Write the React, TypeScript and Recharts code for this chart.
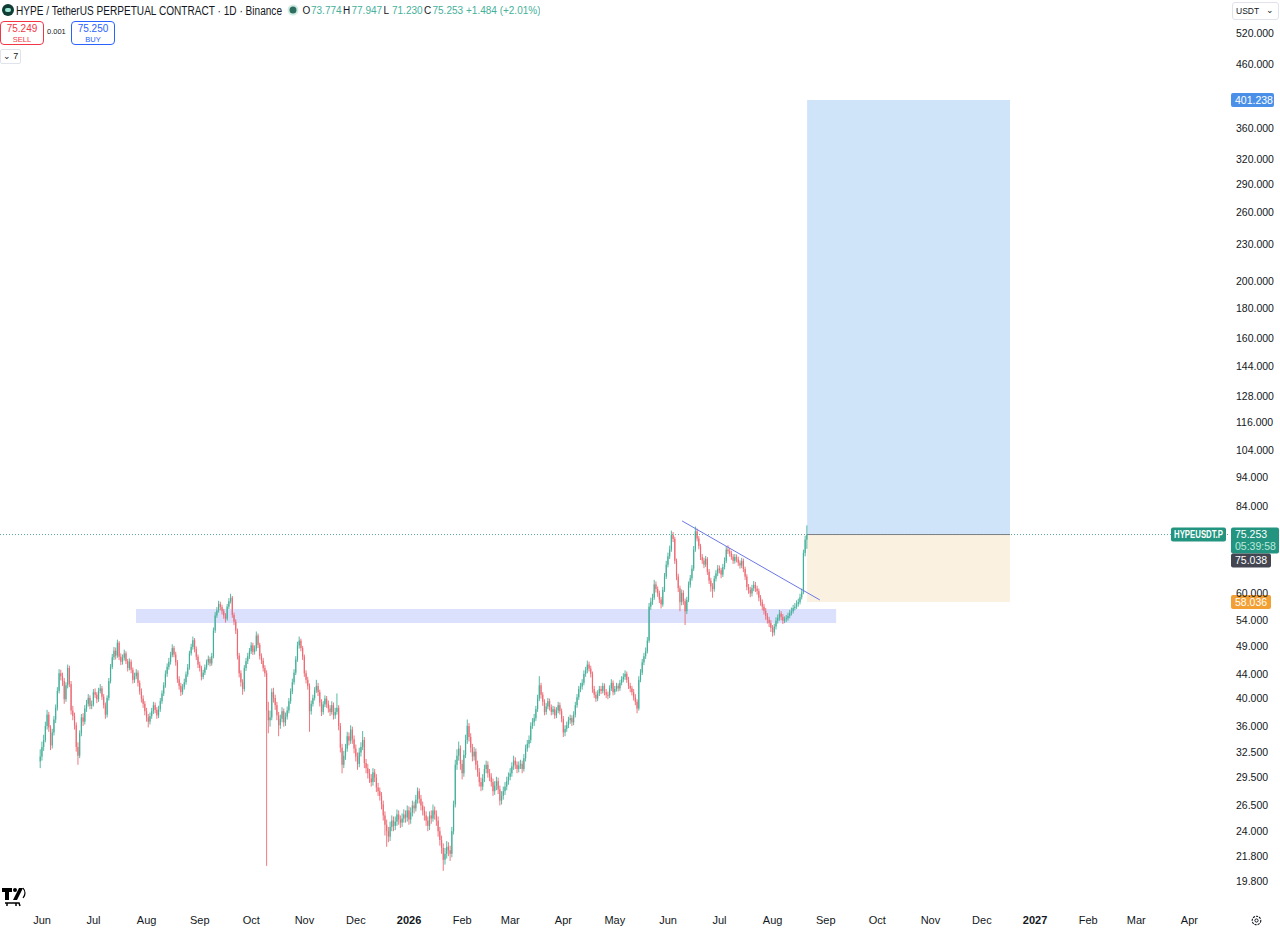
import { Bar, ComposedChart, ReferenceArea, ReferenceLine, XAxis, YAxis } from "recharts";

const FONT = '"Liberation Sans", Arial, sans-serif';
const UP = "#45b09a";
const DOWN = "#ec6a73";
const TEXT = "#131722";

// day 0 = 1 Jun 2025, first candle is 31 May 2025. open = previous close
const firstDay = -1;
const firstOpen = 31.4;

const closes = [
  // Jun 2025
  32.0, 33.2, 34.1, 36.0, 37.6, 35.8, 33.4, 35.1, 36.9, 38.6, 41.2, 44.1, 43.6, 42.8, 39.9, 42.1, 45.0, 42.3, 38.2, 37.4, 36.1, 33.2, 32.1, 35.0, 37.2, 36.6, 38.5, 39.2, 40.1, 38.9, 39.1,
  // Jul
  41.0, 40.6, 39.9, 41.2, 41.6, 40.3, 39.0, 37.6, 40.1, 42.8, 45.2, 46.9, 48.1, 47.2, 49.6, 47.0, 46.1, 46.8, 47.6, 46.2, 45.0, 46.1, 44.7, 43.0, 43.6, 44.2, 42.5, 41.1, 40.0, 39.2, 38.1,
  // Aug
  37.2, 36.6, 37.4, 38.1, 39.0, 38.3, 37.5, 38.4, 39.6, 40.8, 42.1, 44.0, 45.2, 46.1, 47.3, 48.6, 47.4, 46.0, 43.1, 42.0, 41.0, 41.8, 42.6, 43.9, 45.1, 47.6, 48.8, 50.1, 48.4, 47.0, 45.6,
  // Sep
  45.0, 43.5, 44.2, 45.1, 46.0, 46.6, 45.8, 47.1, 52.0, 55.1, 56.2, 57.6, 56.9, 56.0, 55.1, 54.4, 57.0, 58.2, 59.0, 55.2, 53.8, 52.0, 47.2, 44.1, 42.6, 41.5, 45.0, 46.2, 47.1, 48.0,
  // Oct
  49.1, 47.9, 48.5, 51.0, 49.2, 47.1, 46.3, 45.0, 44.1, 38.2, 36.8, 37.2, 41.0, 40.1, 39.0, 37.5, 36.1, 37.0, 38.1, 36.5, 37.3, 38.2, 39.6, 41.1, 42.6, 44.2, 46.5, 49.1, 50.0, 48.6, 47.0,
  // Nov
  44.1, 43.0, 42.0, 38.1, 39.2, 40.1, 41.3, 42.0, 41.0, 39.4, 38.0, 39.1, 40.0, 39.2, 38.5, 38.0, 39.0, 37.5, 38.0, 38.6, 36.0, 33.1, 31.0, 32.1, 33.0, 34.6, 34.0, 35.5, 34.2, 33.0,
  // Dec
  32.0, 31.1, 32.5, 33.2, 34.1, 31.2, 30.6, 30.0, 29.4, 29.0, 30.1, 29.5, 28.4, 28.0, 27.5, 26.6, 25.5, 24.6, 24.0, 23.5, 24.4, 25.0, 24.5, 24.9, 25.6, 25.1, 24.8, 25.2, 25.6, 25.3, 26.0,
  // Jan 2026
  25.1, 25.8, 26.5, 26.2, 27.1, 28.0, 27.2, 26.5, 26.0, 25.5, 25.0, 24.5, 25.5, 25.2, 26.0, 25.6, 25.0, 24.0, 23.2, 22.5, 21.5, 22.0, 22.6, 22.3, 22.0, 24.0, 26.6, 31.0, 32.1, 33.0, 31.1,
  // Feb
  30.0, 32.2, 34.1, 36.0, 34.5, 33.1, 32.0, 32.6, 31.0, 30.1, 29.0, 28.5, 29.4, 30.5, 31.0, 30.0, 29.6, 29.0, 28.0, 28.6, 29.1, 28.2, 27.0, 27.5, 28.0, 28.5, 29.1, 29.6,
  // Mar
  30.0, 30.8, 31.5, 31.0, 30.5, 30.9, 31.1, 30.5, 31.8, 33.0, 33.6, 34.1, 36.0, 36.5, 37.1, 38.4, 40.0, 42.1, 40.6, 39.5, 38.0, 38.8, 39.6, 38.7, 38.0, 38.4, 37.5, 38.2, 39.0, 38.1, 37.0,
  // Apr
  35.1, 35.6, 36.1, 36.8, 37.1, 36.5, 37.6, 39.0, 40.2, 41.5, 41.9, 42.5, 44.0, 44.6, 45.6, 44.9, 44.0, 41.5, 40.6, 40.0, 40.8, 41.5, 41.2, 42.0, 41.0, 40.6, 40.5, 41.6, 42.5, 41.0,
  // May
  41.5, 42.0, 41.6, 42.5, 43.1, 43.5, 44.0, 43.0, 42.0, 41.6, 41.0, 40.2, 39.5, 38.5, 43.0, 44.2, 46.0, 47.1, 48.0, 50.0, 57.0, 58.1, 59.0, 62.1, 61.0, 60.0, 58.6, 57.5, 60.8, 64.0, 67.0,
  // Jun
  69.2, 71.0, 75.1, 74.0, 68.0, 64.0, 61.2, 58.0, 60.1, 58.2, 56.0, 58.5, 62.0, 63.6, 66.0, 71.0, 76.2, 74.1, 72.0, 69.0, 68.1, 67.0, 68.5, 65.2, 63.0, 61.6, 61.0, 63.5, 64.8, 66.0,
  // Jul
  65.6, 64.5, 66.4, 68.0, 71.0, 70.6, 70.0, 69.1, 68.0, 69.0, 68.4, 67.5, 66.8, 68.0, 65.9, 64.0, 61.5, 60.8, 60.0, 61.2, 62.0, 61.1, 60.5, 59.0, 58.0, 57.0, 56.1, 55.0, 54.2, 53.5, 52.5,
  // Aug
  51.6, 52.8, 54.0, 54.6, 55.5, 54.8, 54.0, 54.3, 54.5, 55.0, 55.6, 56.0, 56.7, 57.0, 57.6, 58.0, 59.1, 60.2, 70.1, 73.774, 75.253,
];

const highs = [
  32.9, 33.9, 34.8, 36.6, 38.3, 38.0, 36.1, 35.6, 37.4, 39.1, 41.8, 44.8, 44.7, 44.2, 43.3, 42.6, 45.6, 45.4, 42.8, 38.9, 37.9, 36.5, 33.8, 35.4, 37.7, 37.8, 39.0, 39.8, 40.7, 40.5, 39.7,
  41.5, 41.6, 41.0, 41.7, 42.3, 42.0, 40.7, 39.4, 40.5, 43.3, 45.7, 47.5, 48.8, 48.7, 50.2, 49.9, 47.6, 47.4, 48.3, 48.0, 46.6, 46.7, 46.5, 45.1, 44.2, 44.8, 44.6, 42.9, 41.6, 40.5, 39.6,
  38.6, 37.7, 37.9, 38.6, 39.5, 39.4, 38.7, 38.9, 40.1, 41.3, 42.6, 44.6, 45.8, 46.8, 47.9, 49.3, 49.0, 47.9, 46.4, 43.6, 42.5, 42.3, 43.2, 44.4, 45.7, 48.1, 49.4, 50.8, 50.5, 48.9, 47.4,
  46.1, 45.4, 44.7, 45.6, 46.5, 47.2, 47.0, 47.7, 52.6, 55.8, 56.9, 58.3, 58.1, 57.4, 56.5, 55.6, 57.6, 58.9, 59.9, 59.4, 55.7, 54.3, 52.4, 47.7, 44.6, 43.1, 45.5, 46.8, 47.7, 48.6,
  49.7, 49.6, 49.1, 51.8, 51.4, 49.6, 47.6, 46.8, 45.5, 44.6, 39.5, 38.2, 41.6, 41.7, 40.6, 39.5, 38.0, 37.6, 38.7, 38.5, 37.9, 38.8, 40.1, 41.6, 43.2, 44.8, 47.1, 49.8, 50.8, 50.4, 49.0,
  47.4, 44.6, 43.5, 42.4, 39.7, 40.6, 41.8, 43.0, 42.5, 41.4, 39.9, 39.6, 40.5, 40.4, 39.7, 39.0, 39.6, 39.4, 38.6, 40.8, 39.0, 36.4, 33.6, 32.7, 33.6, 35.2, 35.1, 36.1, 35.9, 34.7,
  33.5, 32.5, 33.1, 33.8, 35.3, 34.5, 31.7, 31.1, 30.5, 29.9, 30.6, 30.5, 29.9, 28.9, 28.4, 27.9, 27.0, 25.9, 25.1, 24.4, 24.9, 25.5, 25.4, 25.4, 26.1, 26.0, 25.5, 25.7, 26.1, 26.0, 26.5,
  26.4, 26.3, 27.0, 26.9, 27.6, 28.4, 28.3, 27.6, 26.9, 26.4, 25.9, 25.4, 25.9, 26.0, 26.6, 26.4, 26.0, 25.4, 24.4, 23.6, 22.9, 22.5, 23.1, 23.0, 22.7, 24.4, 27.0, 31.6, 32.9, 33.9, 33.4,
  31.6, 32.8, 34.8, 36.9, 36.4, 35.0, 33.6, 33.2, 33.0, 31.5, 30.6, 29.5, 29.9, 31.0, 31.5, 31.4, 30.5, 30.0, 29.4, 29.1, 29.6, 29.5, 28.6, 28.0, 28.5, 29.0, 29.6, 30.1,
  30.6, 31.3, 32.1, 31.9, 31.4, 31.4, 31.6, 31.5, 32.3, 33.5, 34.1, 34.7, 36.5, 37.1, 37.7, 38.9, 40.6, 43.6, 42.5, 41.0, 39.9, 39.3, 40.1, 40.0, 39.1, 38.9, 38.8, 38.7, 39.5, 39.4, 38.5,
  37.4, 36.1, 36.6, 37.3, 37.6, 37.5, 38.1, 39.5, 40.7, 42.0, 42.5, 43.1, 44.6, 45.2, 46.3, 46.1, 45.4, 44.4, 42.0, 41.1, 41.3, 42.0, 42.0, 42.5, 42.4, 41.5, 41.1, 42.1, 43.1, 42.9,
  42.0, 42.5, 42.4, 43.0, 43.6, 44.1, 44.6, 44.4, 43.5, 42.5, 42.0, 41.5, 40.7, 39.9, 43.6, 44.8, 46.6, 47.7, 48.7, 50.7, 57.8, 59.0, 59.9, 63.2, 62.8, 61.6, 60.6, 59.2, 61.5, 64.9, 68.0,
  70.2, 72.1, 76.4, 76.0, 74.6, 68.6, 64.7, 61.8, 60.9, 60.7, 58.8, 59.2, 62.8, 64.4, 66.9, 72.0, 77.6, 77.0, 74.8, 72.6, 69.8, 68.8, 69.3, 69.0, 65.9, 63.7, 62.4, 64.2, 65.6, 66.9,
  66.8, 66.2, 67.2, 68.9, 72.0, 72.2, 71.4, 70.7, 69.8, 69.8, 69.7, 69.1, 68.1, 68.8, 68.6, 66.5, 64.6, 62.2, 61.5, 62.0, 62.9, 62.7, 61.8, 61.1, 59.6, 58.6, 57.6, 56.7, 55.6, 54.8, 54.1,
  53.1, 53.4, 54.7, 55.3, 56.3, 56.0, 55.4, 54.9, 55.2, 55.7, 56.3, 56.8, 57.4, 57.8, 58.4, 58.8, 59.9, 61.1, 71.0, 74.9, 77.947,
];

const lows = [
  30.6, 31.5, 32.7, 33.8, 35.5, 35.2, 32.8, 33.0, 34.7, 36.4, 38.2, 40.8, 42.9, 42.0, 39.2, 39.5, 41.6, 41.8, 37.6, 36.8, 35.5, 32.6, 31.0, 31.8, 34.6, 36.0, 36.2, 38.0, 38.8, 38.4, 38.4,
  38.8, 40.1, 39.3, 39.5, 40.8, 39.8, 38.5, 37.0, 37.2, 39.7, 42.4, 44.8, 46.4, 46.5, 46.8, 46.4, 45.5, 45.6, 46.3, 45.7, 44.4, 44.6, 44.1, 42.4, 42.5, 43.1, 41.9, 40.6, 39.4, 38.6, 37.5,
  36.6, 35.8, 36.2, 37.0, 37.7, 37.8, 37.0, 37.1, 38.0, 39.2, 40.4, 41.7, 43.5, 44.7, 45.6, 46.9, 46.9, 45.4, 42.5, 41.4, 40.4, 40.6, 41.4, 42.2, 43.5, 44.7, 47.2, 48.3, 47.8, 46.4, 45.0,
  44.4, 42.9, 43.1, 43.8, 44.7, 45.5, 45.3, 45.4, 46.7, 51.5, 54.6, 55.7, 56.2, 55.3, 54.4, 53.6, 54.0, 56.5, 57.7, 54.6, 53.1, 51.3, 46.5, 43.4, 41.9, 40.6, 41.1, 44.5, 45.7, 46.6,
  47.5, 47.3, 47.4, 48.0, 48.6, 46.5, 45.7, 44.4, 43.5, 21.0, 35.0, 35.9, 36.8, 39.4, 38.3, 36.8, 34.6, 35.6, 36.5, 35.9, 36.0, 36.9, 37.8, 39.2, 40.7, 42.2, 43.8, 46.1, 48.5, 48.0, 46.4,
  43.5, 42.4, 41.4, 35.2, 37.6, 38.8, 39.7, 40.9, 40.4, 38.8, 37.4, 37.6, 38.7, 38.6, 37.9, 37.4, 37.6, 36.9, 37.0, 37.6, 35.4, 32.5, 30.0, 30.6, 31.6, 32.6, 33.4, 33.6, 33.6, 32.4,
  31.4, 30.4, 30.7, 32.0, 32.8, 30.6, 30.0, 29.4, 28.9, 28.5, 28.6, 29.0, 27.9, 27.5, 27.0, 26.1, 25.0, 23.6, 22.6, 23.0, 23.1, 24.0, 24.0, 24.1, 24.5, 24.6, 24.3, 24.4, 24.8, 24.8, 24.9,
  24.6, 24.7, 25.4, 25.7, 25.9, 26.7, 26.7, 26.0, 25.5, 25.0, 24.5, 24.0, 24.1, 24.7, 24.9, 25.1, 24.5, 23.5, 22.7, 22.0, 20.6, 21.1, 21.6, 21.8, 21.4, 21.7, 23.7, 26.3, 30.4, 31.5, 30.4,
  29.3, 29.6, 31.8, 33.6, 33.9, 32.5, 31.4, 31.5, 30.4, 29.6, 28.5, 28.0, 28.1, 29.0, 30.0, 29.5, 29.1, 28.5, 27.5, 27.6, 28.1, 27.7, 26.5, 26.6, 27.1, 27.6, 28.1, 28.7,
  29.2, 29.6, 30.4, 30.5, 30.0, 30.1, 30.5, 30.0, 30.2, 31.4, 32.6, 33.1, 33.7, 35.6, 36.0, 36.7, 38.0, 39.6, 40.0, 38.9, 37.5, 37.6, 38.4, 38.2, 37.5, 37.6, 37.0, 37.1, 37.8, 37.6, 36.5,
  34.5, 34.6, 35.2, 35.7, 36.3, 36.0, 36.1, 37.2, 38.6, 39.8, 41.0, 41.4, 42.1, 43.5, 44.1, 44.4, 43.4, 40.9, 40.1, 39.5, 39.6, 40.4, 40.7, 40.8, 40.5, 40.1, 39.9, 40.1, 41.2, 40.5,
  40.6, 41.1, 41.1, 41.2, 42.1, 42.6, 43.0, 42.5, 41.5, 41.0, 40.5, 39.7, 39.0, 37.8, 38.2, 42.6, 43.8, 45.5, 46.6, 47.6, 49.6, 56.3, 57.4, 58.5, 60.2, 59.2, 57.8, 56.6, 57.0, 60.3, 63.4,
  66.3, 68.5, 70.4, 73.1, 67.2, 63.1, 60.3, 56.0, 57.3, 57.4, 53.1, 55.4, 58.0, 61.3, 63.0, 65.4, 70.4, 73.3, 71.1, 68.2, 67.2, 66.1, 66.4, 64.4, 62.2, 60.4, 59.0, 60.4, 62.8, 64.1,
  64.8, 63.6, 63.9, 65.8, 67.4, 69.8, 69.1, 68.3, 67.2, 67.3, 67.6, 66.7, 66.0, 66.1, 65.1, 63.2, 60.7, 59.9, 59.1, 59.3, 60.5, 60.3, 59.7, 58.2, 57.2, 56.2, 55.3, 54.2, 53.4, 52.7, 51.7,
  50.8, 51.0, 52.2, 53.4, 54.0, 54.1, 53.3, 53.5, 53.7, 54.0, 54.5, 55.1, 55.5, 56.2, 56.5, 57.0, 57.5, 58.6, 59.8, 69.2, 71.23,
];

const monthTickDays = [0, 30, 61, 92, 122, 153, 183, 214, 245, 273, 304, 334, 365, 395, 426, 457, 487, 518, 548, 579, 610, 638, 669];
const monthTickLabels = ["Jun", "Jul", "Aug", "Sep", "Oct", "Nov", "Dec", "2026", "Feb", "Mar", "Apr", "May", "Jun", "Jul", "Aug", "Sep", "Oct", "Nov", "Dec", "2027", "Feb", "Mar", "Apr"];
const priceTicks = [19.8, 21.8, 24, 26.5, 29.5, 32.5, 36, 40, 44, 49, 54, 60, 84, 94, 104, 116, 128, 144, 160, 180, 200, 230, 260, 290, 320, 360, 460, 520];

// legend line: [label, value]
const ohlcLabels = ["O", "H", "L", "C"];
const ohlcValues = ["73.774", "77.947", "71.230", "75.253"];
const changeText = "+1.484 (+2.01%)";

// drawings
const supportZone = { fromDay: 54.8, toDay: 463, low: 53.5, high: 56.5 };
const longPosition = { fromDay: 446.1, toDay: 564.4, entry: 75.253, target: 401.238, stop: 58.036 };
const trendLine = [
  { day: 373.2, price: 79.3 },
  { day: 453.5, price: 58.5 },
];
const lastPrice = 75.253;
const markPrice = 75.038;

const n = Math.min(closes.length, highs.length, lows.length);
const candles = closes.slice(0, n).map((close, i) => {
  const open = i === 0 ? firstOpen : closes[i - 1];
  return { d: firstDay + i, open, close, high: highs[i], low: lows[i], range: [lows[i], highs[i]] };
});

const Candle = (props: any) => {
  const { x, y, width, height, payload } = props;
  if (!payload || height == null) return null;
  const { open, close, high, low } = payload;
  const cx = x + width / 2;
  const top = Math.min(y, y + height);
  const h = Math.abs(height);
  const span = Math.log(high) - Math.log(low);
  const py = (v: number) => top + (span === 0 ? 0 : (h * (Math.log(high) - Math.log(v))) / span);
  const color = close >= open ? UP : DOWN;
  const bTop = py(Math.max(open, close));
  const bBot = py(Math.min(open, close));
  return (
    <g>
      <line x1={cx} x2={cx} y1={top} y2={top + h} stroke={color} strokeWidth={0.9} />
      <rect x={cx - 0.6} y={bTop} width={1.2} height={Math.max(1, bBot - bTop)} fill={color} />
    </g>
  );
};

const MonthTick = (props: any) => {
  const { x, y, payload } = props;
  const idx = monthTickDays.indexOf(payload.value);
  const label = monthTickLabels[idx] ?? "";
  const isYear = label.length === 4;
  return (
    <text x={x} y={y + 11} textAnchor="middle" fontSize={11} fontFamily={FONT} fontWeight={isYear ? 700 : 400} fill={TEXT}>
      {label}
    </text>
  );
};

const badge = (text: string, bg: string, w: number) => (props: any) => {
  const vb = props.viewBox;
  if (!vb) return null;
  const x = vb.x + vb.width + 3;
  const y = vb.y;
  return (
    <g>
      <rect x={x} y={y - 7} width={w} height={14} rx={2} fill={bg} />
      <text x={x + 4} y={y} dy="0.35em" fontSize={10.5} fontFamily={FONT} fill="#fff">
        {text}
      </text>
    </g>
  );
};

const lastPriceBadge = (props: any) => {
  const vb = props.viewBox;
  if (!vb) return null;
  const right = vb.x + vb.width;
  const y = vb.y;
  return (
    <g fontFamily={FONT}>
      <rect x={right - 57} y={y - 7} width={55} height={14} rx={2} fill="#22947f" />
      <text x={right - 54} y={y} dy="0.35em" fontSize={10} fontWeight={700} fill="#fff" textLength={49} lengthAdjust="spacingAndGlyphs">
        HYPEUSDT.P
      </text>
      <rect x={right + 3} y={y - 7} width={48} height={26} rx={2} fill="#22947f" />
      <text x={right + 7} y={y} dy="0.35em" fontSize={10.5} fill="#fff">
        {lastPrice.toFixed(3)}
      </text>
      <text x={right + 7} y={y + 12} dy="0.35em" fontSize={10.5} fill="#bfe8dd">
        05:39:58
      </text>
      <rect x={right + 3} y={y + 19} width={40} height={14} rx={2} fill="#434651" />
      <text x={right + 7} y={y + 26} dy="0.35em" fontSize={10.5} fill="#fff">
        {markPrice.toFixed(3)}
      </text>
    </g>
  );
};

const Header = () => (
  <div style={{ position: "absolute", left: 0, top: 0, fontFamily: FONT, color: TEXT, pointerEvents: "none" }}>
    <div style={{ position: "absolute", left: 2, top: 4, width: 12, height: 12, borderRadius: 6, background: "#0f3d35" }}>
      <div style={{ position: "absolute", left: 3, top: 4, width: 6, height: 4, borderRadius: 2, background: "#9ee6d4" }} />
    </div>
    <svg style={{ position: "absolute", left: 0, top: 0 }} width={540} height={20}>
      <text x={16} y={14.5} fontSize={12} fontFamily={FONT} fill={TEXT} textLength={266} lengthAdjust="spacingAndGlyphs">
        HYPE / TetherUS PERPETUAL CONTRACT · 1D · Binance
      </text>
      <circle cx={293} cy={10} r={5.5} fill="#d3ebe4" />
      <circle cx={293} cy={10} r={3.5} fill="#2c6f5f" />
      {ohlcLabels.map((lab, i) => (
        <g key={lab}>
          <text x={302.5 + i * 40.5} y={14} fontSize={10} fontFamily={FONT} fill={TEXT}>
            {lab}
          </text>
          <text x={311 + i * 40.5} y={14} fontSize={10} fontFamily={FONT} fill={UP}>
            {ohlcValues[i]}
          </text>
        </g>
      ))}
      <text x={466} y={14} fontSize={10} fontFamily={FONT} fill={UP}>
        {changeText}
      </text>
    </svg>
    <div style={{ position: "absolute", left: 0, top: 21, width: 42, height: 22, border: "1px solid #f23645", borderRadius: 4, color: "#f23645", textAlign: "center", lineHeight: "10px", fontSize: 10 }}>
      <div style={{ marginTop: 2 }}>75.249</div>
      <div style={{ fontSize: 7.5, marginTop: 1 }}>SELL</div>
    </div>
    <div style={{ position: "absolute", left: 47, top: 27, fontSize: 7.5 }}>0.001</div>
    <div style={{ position: "absolute", left: 71, top: 21, width: 42, height: 22, border: "1px solid #2962ff", borderRadius: 4, color: "#2962ff", textAlign: "center", lineHeight: "10px", fontSize: 10 }}>
      <div style={{ marginTop: 2 }}>75.250</div>
      <div style={{ fontSize: 7.5, marginTop: 1 }}>BUY</div>
    </div>
    <div style={{ position: "absolute", left: 0, top: 49, width: 19, height: 13, border: "1px solid #e0e3eb", borderRadius: 2, fontSize: 9, lineHeight: "13px", textAlign: "center" }}>
      ⌄ 7
    </div>
    <div style={{ position: "absolute", left: 1232, top: 2, width: 45, height: 16, border: "1px solid #e0e3eb", borderRadius: 3, fontSize: 8.5, lineHeight: "16px" }}>
      <span style={{ marginLeft: 3 }}>USDT</span>
      <span style={{ position: "absolute", right: 4, top: -1 }}>⌄</span>
    </div>
    <svg style={{ position: "absolute", left: 2, top: 887 }} width={26} height={20} viewBox="0 0 26 20">
      <path d="M0 1h10v4h-3v8h-4v-8h-3z" fill="#000" />
      <circle cx={13} cy={3} r={2} fill="#000" />
      <path d="M11 13l6-12h4l-6 12z" fill="#000" />
      <path d="M21 1q4 5 0 10" stroke="#000" strokeWidth={1.2} fill="none" />
      <path d="M3 16h14l1 3M5 16v3M14 16v3" stroke="#000" strokeWidth={1.5} fill="none" />
    </svg>
    <svg style={{ position: "absolute", left: 1251, top: 915 }} width={11} height={11} viewBox="0 0 11 11">
      <circle cx={5.5} cy={5.5} r={4.3} stroke={TEXT} strokeWidth={1.1} fill="none" strokeDasharray="2.2 1" />
      <circle cx={5.5} cy={5.5} r={1.6} stroke={TEXT} strokeWidth={1} fill="none" />
    </svg>
  </div>
);

export default function App() {
  return (
    <div style={{ position: "absolute", left: 0, top: 0, width: 1280, height: 932, background: "#fff", overflow: "hidden" }}>
      <ComposedChart width={1280} height={932} data={candles} margin={{ top: 0, right: 0, bottom: 0, left: 0 }}>
        <XAxis
          type="number"
          dataKey="d"
          domain={[-24.5, 691.5]}
          ticks={monthTickDays}
          interval={0}
          tick={<MonthTick />}
          tickLine={false}
          axisLine={false}
          height={27}
          allowDataOverflow
        />
        <YAxis
          type="number"
          orientation="right"
          scale="log"
          domain={[18.06, 590]}
          ticks={priceTicks}
          interval={0}
          tickFormatter={(v: number) => v.toFixed(3)}
          tick={{ fontSize: 10.5, fill: TEXT, fontFamily: FONT }}
          tickLine={false}
          axisLine={false}
          width={52}
          allowDataOverflow
        />
        <ReferenceArea
          x1={supportZone.fromDay}
          x2={supportZone.toDay}
          y1={supportZone.low}
          y2={supportZone.high}
          fill="#3f5bf2"
          fillOpacity={0.19}
          stroke="none"
          ifOverflow="visible"
        />
        <ReferenceArea
          x1={longPosition.fromDay}
          x2={longPosition.toDay}
          y1={longPosition.entry}
          y2={longPosition.target}
          fill="#cfe3f9"
          fillOpacity={1}
          stroke="none"
          ifOverflow="visible"
        />
        <ReferenceArea
          x1={longPosition.fromDay}
          x2={longPosition.toDay}
          y1={longPosition.stop}
          y2={longPosition.entry}
          fill="#fbf1e1"
          fillOpacity={1}
          stroke="none"
          ifOverflow="visible"
        />
        <ReferenceLine y={lastPrice} stroke="#58a898" strokeDasharray="1 2" label={lastPriceBadge} />
        <ReferenceLine
          segment={[
            { x: longPosition.fromDay, y: longPosition.entry },
            { x: longPosition.toDay, y: longPosition.entry },
          ]}
          stroke="#7d7f88"
          strokeWidth={1}
          ifOverflow="visible"
        />
        <ReferenceLine
          segment={[
            { x: trendLine[0].day, y: trendLine[0].price },
            { x: trendLine[1].day, y: trendLine[1].price },
          ]}
          stroke="#6a77e6"
          strokeWidth={1}
          ifOverflow="visible"
        />
        <ReferenceLine y={longPosition.target} stroke="none" label={badge(longPosition.target.toFixed(3), "#4a90e8", 43)} />
        <ReferenceLine y={longPosition.stop} stroke="none" label={badge(longPosition.stop.toFixed(3), "#f2a033", 40)} />
        <Bar dataKey="range" shape={(p: any) => <Candle {...p} />} barSize={2} isAnimationActive={false} />
      </ComposedChart>
      <Header />
    </div>
  );
}
